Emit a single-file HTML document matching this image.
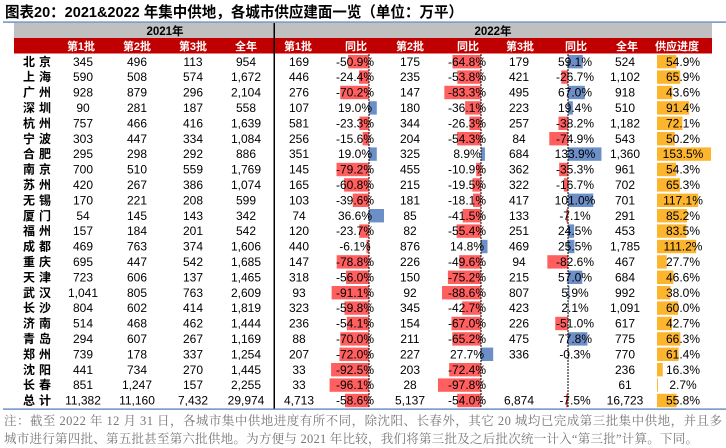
<!DOCTYPE html>
<html><head><meta charset="utf-8"><style>
html,body{margin:0;padding:0;background:#fff;}
svg{display:block}
.n{font-family:"Liberation Sans",Arial,sans-serif;font-size:12px;fill:#000;text-anchor:middle}
.c{font-family:"Liberation Sans","Noto Sans CJK SC",sans-serif;font-size:12px;font-weight:bold;fill:#000;text-anchor:middle}
.h{font-family:"Liberation Sans","Noto Sans CJK SC",sans-serif;font-size:11px;font-weight:bold;fill:#fff;text-anchor:middle}
.g{font-family:"Liberation Sans","Noto Sans CJK SC",sans-serif;font-size:11.5px;font-weight:bold;fill:#000;text-anchor:middle}
.note{font-family:"Liberation Serif","Noto Serif CJK SC",serif;font-size:12.5px;fill:#777}
</style></head><body>
<svg width="726" height="448" xmlns="http://www.w3.org/2000/svg">
<text x="5" y="17" font-family="'Liberation Sans','Noto Sans CJK SC',sans-serif" font-size="15" font-weight="bold" textLength="458" lengthAdjust="spacingAndGlyphs">图表20：2021&amp;2022 年集中供地，各城市供应建面一览（单位：万平）</text>
<rect x="3" y="21.5" width="723" height="1.2" fill="#4a76b8"/>
<rect x="14" y="23" width="698" height="15" fill="#c0c0c0"/>
<rect x="14" y="38" width="698" height="15.5" fill="#c00000"/>
<text class="g" x="165" y="35">2021年</text>
<text class="g" x="493" y="35">2022年</text>
<g>
<text class="h" x="81" y="50">第1批</text><text class="h" x="137" y="50">第2批</text><text class="h" x="193" y="50">第3批</text><text class="h" x="246" y="50">全年</text>
<text class="h" x="298" y="50">第1批</text><text class="h" x="356" y="50">同比</text><text class="h" x="410" y="50">第2批</text><text class="h" x="468" y="50">同比</text><text class="h" x="520" y="50">第3批</text><text class="h" x="576" y="50">同比</text><text class="h" x="627" y="50">全年</text><text class="h" x="677" y="50">供应进度</text>
</g>
<g id="bars"></g>
<rect x="273.5" y="23" width="1.5" height="386" fill="#000"/>
<line x1="369" y1="54" x2="369" y2="408" stroke="#000" stroke-width="1" stroke-dasharray="2,1"/>
<line x1="481" y1="54" x2="481" y2="408" stroke="#000" stroke-width="1" stroke-dasharray="2,1"/>
<line x1="568" y1="54" x2="568" y2="408" stroke="#000" stroke-width="1" stroke-dasharray="2,1"/>
<g id="txt"></g>
<rect x="3" y="408.5" width="723" height="1.2" fill="#4a76b8"/>
<text class="note" x="4" y="425" textLength="718" lengthAdjust="spacing">注：截至 2022 年 12 月 31 日，各城市集中供地进度有所不同，除沈阳、长春外，其它 20 城均已完成第三批集中供地，并且多</text>
<text class="note" x="4" y="443" textLength="694" lengthAdjust="spacing">城市进行第四批、第五批甚至第六批供地。为方便与 2021 年比较，我们将第三批及之后批次统一计入“第三批”计算。下同。</text>
</svg>
<script>
var D=[
["北京","345","496","113","954","169",-50.9,"175",-64.8,"179",59.1,"524",54.9],
["上海","590","508","574","1,672","446",-24.4,"235",-53.8,"421",-26.7,"1,102",65.9],
["广州","928","879","296","2,104","276",-70.2,"147",-83.3,"495",67.0,"918",43.6],
["深圳","90","281","187","558","107",19.0,"180",-36.1,"223",19.4,"510",91.4],
["杭州","757","466","416","1,639","581",-23.3,"344",-26.3,"257",-38.2,"1,182",72.1],
["宁波","303","447","334","1,084","256",-15.6,"204",-54.3,"84",-74.9,"543",50.2],
["合肥","295","298","292","886","351",19.0,"325",8.9,"684",133.9,"1,360",153.5],
["南京","700","510","559","1,769","145",-79.2,"455",-10.9,"362",-35.3,"961",54.3],
["苏州","420","267","386","1,074","165",-60.8,"215",-19.5,"322",-16.7,"702",65.3],
["无锡","170","221","208","599","103",-39.6,"181",-18.1,"417",101.0,"701",117.1],
["厦门","54","145","143","342","74",36.6,"85",-41.5,"133",-7.1,"291",85.2],
["福州","157","184","201","542","120",-23.7,"82",-55.4,"251",24.5,"453",83.5],
["成都","469","763","374","1,606","440",-6.1,"876",14.8,"469",25.5,"1,785",111.2],
["重庆","695","447","542","1,685","147",-78.8,"226",-49.6,"94",-82.6,"467",27.7],
["天津","723","606","137","1,465","318",-56.0,"150",-75.2,"215",57.0,"684",46.6],
["武汉","1,041","805","763","2,609","93",-91.1,"92",-88.6,"807",5.9,"992",38.0],
["长沙","804","602","414","1,819","323",-59.8,"345",-42.7,"423",2.1,"1,091",60.0],
["济南","514","468","462","1,444","236",-54.1,"154",-67.0,"226",-51.0,"617",42.7],
["青岛","294","607","267","1,169","88",-70.0,"211",-65.2,"475",77.8,"775",66.3],
["郑州","739","178","337","1,254","207",-72.0,"227",27.7,"336",-0.3,"770",61.4],
["沈阳","441","734","270","1,445","33",-92.5,"203",-72.4,"",null,"236",16.3],
["长春","851","1,247","157","2,255","33",-96.1,"28",-97.8,"",null,"61",2.7],
["总计","11,382","11,160","7,432","29,974","4,713",-58.6,"5,137",-54.0,"6,874",-7.5,"16,723",55.8]];
var NS="http://www.w3.org/2000/svg",bars=document.getElementById("bars"),txt=document.getElementById("txt");
function R(x,y,w,h,f){var r=document.createElementNS(NS,"rect");r.setAttribute("x",x);r.setAttribute("y",y);r.setAttribute("width",Math.max(w,0.6));r.setAttribute("height",h);r.setAttribute("fill",f);bars.appendChild(r);}
function T(x,y,s,c,tl){var t=document.createElementNS(NS,"text");t.setAttribute("x",x);t.setAttribute("y",y);t.setAttribute("class",c);if(tl){t.setAttribute("textLength",tl);t.setAttribute("lengthAdjust","spacing");}t.textContent=s;txt.appendChild(t);}
var RED="#ff5f5f",BLUE="#6c8fc8",OR="#fdb52e";
function bar(ax,sc,v,y){if(v===null)return;var w=Math.abs(v)*sc;if(v<0)R(ax-w,y,w,13.4,RED);else R(ax,y,w,13.4,BLUE);}
D.forEach(function(d,i){
 var top=54+15.4*i,by=top+1,ty=top+11.8;
 bar(369,0.41,d[6],by);bar(481,0.44,d[8],by);bar(568,0.25,d[10],by);
 R(657,by,d[12]*0.352,13.4,OR);
 T(37,ty,d[0],"c",28);
 T(83,ty,d[1],"n");T(137,ty,d[2],"n");T(193,ty,d[3],"n");T(246,ty,d[4],"n");
 T(299,ty,d[5],"n");T(355,ty,d[6].toFixed(1)+"%","n");
 T(410,ty,d[7],"n");T(467,ty,d[8].toFixed(1)+"%","n");
 if(d[9])T(519,ty,d[9],"n");if(d[10]!==null)T(575,ty,d[10].toFixed(1)+"%","n");
 T(625,ty,d[11],"n");T(683,ty,d[12].toFixed(1)+"%","n");
});
</script>
</body></html>
